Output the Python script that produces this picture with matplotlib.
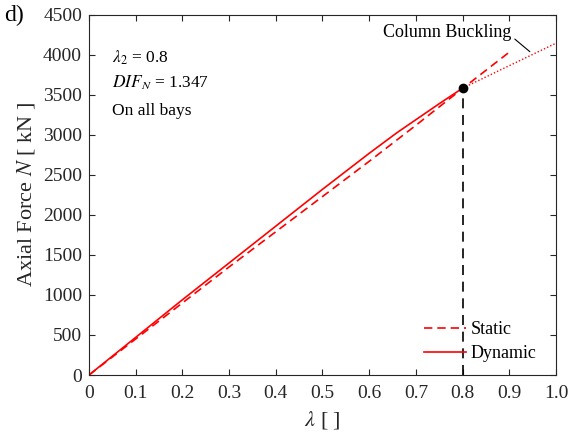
import matplotlib
matplotlib.use("Agg")
import matplotlib.pyplot as plt

plt.rcParams["font.family"] = ["Liberation Serif", "DejaVu Serif"]
plt.rcParams["mathtext.fontset"] = "stix"

# load factor vs axial force in the column
lam_dynamic = [0, 0.1, 0.2, 0.3, 0.4, 0.5, 0.6, 0.66, 0.7, 0.75, 0.8]
n_dynamic = [0, 470, 940, 1400, 1860, 2320, 2770, 3030, 3190, 3390, 3584]

lam_static = [0, 0.1, 0.2, 0.3, 0.4, 0.5, 0.6, 0.7, 0.8, 0.9]
n_static = [0, 450, 900, 1350, 1790, 2230, 2670, 3120, 3580, 4034]

# post-buckling extension of the dynamic curve
lam_buckle = [0.8, 0.9, 1.0]
n_buckle = [3584, 3865, 4146]

lam_2 = 0.8
n_at_lam2 = 3584

INK = "#262626"

fig = plt.figure(figsize=(5.73, 4.36), dpi=100)
ax = fig.add_axes([0.1553, 0.1399, 0.815, 0.826])

ax.plot(lam_static, n_static, color="red", linestyle=(0, (5, 3)), linewidth=1.2, label="Static")
ax.plot(lam_dynamic, n_dynamic, color="red", linewidth=1.2, label="Dynamic")
ax.plot(lam_buckle, n_buckle, color="red", linestyle=(0, (1, 1.5)), linewidth=1.0)
ax.plot([lam_2, lam_2], [0, n_at_lam2], color="black", linestyle=(0, (6, 4)), linewidth=1.2)
ax.plot([lam_2], [n_at_lam2], "o", color="black", markersize=6)

ax.annotate("Column Buckling", xy=(0.944, 4040), xytext=(0.9036, 4280),
            fontsize=13, ha="right", va="center", color="black",
            arrowprops=dict(arrowstyle="-", color="black", linewidth=0.8,
                            shrinkA=1, shrinkB=0, relpos=(1.0, 0.3)))

ax.text(0.05, 3960, r"$\lambda_2$ = 0.8", fontsize=12.5, va="center")
ax.text(0.05, 3650, r"$DIF_N$ = 1.347", fontsize=12.5, va="center")
ax.text(0.05, 3300, "On all bays", fontsize=12.5, va="center")

ax.set_xlim(0, 1.0)
ax.set_ylim(0, 4500)
ax.set_xticks([0, 0.1, 0.2, 0.3, 0.4, 0.5, 0.6, 0.7, 0.8, 0.9, 1.0])
ax.set_xticklabels(["0", "0.1", "0.2", "0.3", "0.4", "0.5", "0.6", "0.7", "0.8", "0.9", "1.0"])
ax.set_yticks(range(0, 4501, 500))
ax.tick_params(direction="in", top=True, right=True, labelsize=14, colors=INK, length=4, width=0.8)
ax.tick_params(axis="x", pad=7)
ax.tick_params(axis="y", pad=5)
for side in ax.spines.values():
    side.set_color(INK)
    side.set_linewidth(0.8)

ax.set_xlabel(r"$\lambda$ [ ]", fontsize=16, color=INK, labelpad=5)
ax.set_ylabel(r"Axial Force $N$ [ kN ]", fontsize=16, color=INK, labelpad=4)

ax.legend(loc="lower right", frameon=False, fontsize=13, handlelength=2.3,
          handletextpad=0.25, borderaxespad=0.3, labelspacing=0.4, bbox_to_anchor=(0.985, 0.0))

fig.text(0.008, 0.965, "d)", fontsize=17, va="center")

fig.savefig("out.png", dpi=100)
